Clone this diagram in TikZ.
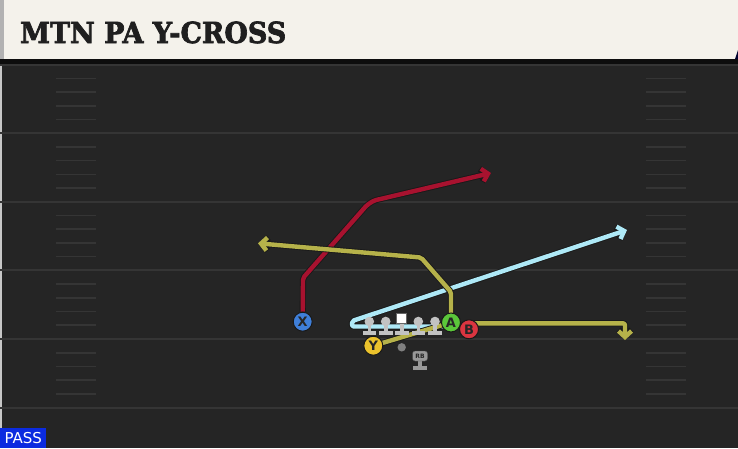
\documentclass[tikz,border=0pt]{standalone}
\usepackage{fontspec}
\setmainfont{DejaVu Sans}
\newfontfamily\titlefont[BoldFeatures={FakeBold=2.5}]{DejaVu Serif}
\usepackage{xcolor}
\usepackage{tikz}
\usetikzlibrary{arrows.meta,backgrounds}

\definecolor{field}{HTML}{252525}
\definecolor{fieldline}{HTML}{353535}
\definecolor{cream}{HTML}{F4F2EB}
\definecolor{redroute}{HTML}{A8122F}
\definecolor{oliveroute}{HTML}{B6B24A}
\definecolor{skyroute}{HTML}{AEE9F7}
\definecolor{xblue}{HTML}{3F7FD9}
\definecolor{agreen}{HTML}{5BC73A}
\definecolor{bred}{HTML}{DB3540}
\definecolor{ygold}{HTML}{EBC22C}
\definecolor{olgray}{HTML}{C2C2C2}
\definecolor{passblue}{HTML}{0B2BE0}

\begin{document}
\begin{tikzpicture}[x=1pt,y=-1pt,
    route/.style={line width=4.4pt, line join=round, rounded corners=2pt,
        -{Straight Barb[length=6pt,width=13pt]},
        preaction={draw=black!90, line width=6.2pt}},
    player/.style={circle, draw=black!90, line width=1pt, minimum size=19pt,
        inner sep=0pt, text=black!85, font=\bfseries\fontsize{13}{13}\selectfont}]
    \useasboundingbox (0,0) rectangle (738,448);

    % Players
    \node[player, fill=xblue] (X) at (302.7,321.7) {X};
    \node[player, fill=ygold] (Y) at (373.3,345.7) {Y};
    \node[player, fill=agreen] (A) at (451,322.5) {A};
    \node[player, fill=bred] (B) at (469,329.3) {B};

    % Route points
    \coordinate (x1) at (303,278);
    \coordinate (x2) at (367,205);
    \coordinate (x3) at (374,200.5);
    \coordinate (xEnd) at (491,173);
    \coordinate (c1) at (352,326.5);
    \coordinate (c2) at (352,321);
    \coordinate (cEnd) at (627,230);
    \coordinate (y1) at (451,292);
    \coordinate (y2) at (421,257.5);
    \coordinate (yEnd) at (258,243.3);
    \coordinate (b1) at (625,323.3);
    \coordinate (bEnd) at (625,340);

    \begin{scope}[on background layer]
    % Field
    \fill[field] (0,0) rectangle (738,448);
    \fill[black!22] (0,59) rectangle (1.5,448);
    \foreach \k in {0,...,5} {
        \draw[fieldline, line width=2pt] (0,64.6+68.6*\k) -- (738,64.6+68.6*\k);
    }
    \foreach \k in {0,...,4} {
        \foreach \j in {1,...,4} {
            \draw[fieldline, line width=1.6pt] (56,64.6+68.6*\k+13.72*\j) -- (96,64.6+68.6*\k+13.72*\j);
            \draw[fieldline, line width=1.6pt] (646,64.6+68.6*\k+13.72*\j) -- (686,64.6+68.6*\k+13.72*\j);
        }
    }

    % Header
    \fill[black!95] (0,58) rectangle (738,64);
    \fill[cream] (0,0) rectangle (738,59);
    \fill[black!30] (0,0) rectangle (4,59);
    \fill[black!70!blue!60!black] (738,50) -- (738,59) -- (735,59) -- cycle;

    % Routes
    \draw[route, redroute] (X) -- (x1) -- (x2) -- (x3) -- (xEnd);
    \draw[route, skyroute] (A.center |- c1) -- (c1) -- (c2) -- (cEnd);
    \draw[route, oliveroute] (Y.center) -- (A.center) -- (y1) -- (y2) -- (yEnd);
    \draw[route, oliveroute] (B.center |- b1) -- (b1) -- (bEnd);

    % Line
    \foreach \lx in {369.3,385.7,418.3,435} {
        \fill[olgray] (\lx,321.5) circle (4.8);
        \fill[olgray] (\lx-1.8,325) rectangle (\lx+1.8,331);
        \fill[olgray] (\lx-6.8,330.5) rectangle (\lx+6.8,335);
    }
    \fill[olgray] (399.9,322) rectangle (403.5,331);
    \fill[olgray] (394.9,330.5) rectangle (408.5,335);
    \draw[black!60, fill=white, line width=0.6pt] (396.7,313.5) rectangle (406.7,323.5);

    % Backfield
    \fill[black!50] (401.7,347.3) circle (4.2);
    \fill[black!40] (418.3,361) rectangle (421.7,366);
    \fill[black!40] (413.3,365.5) rectangle (426.7,370);
    \end{scope}

    \node[draw=black!70, fill=black!40, rounded corners=2.5pt, minimum width=15pt,
        minimum height=10pt, inner sep=0pt, text=black!85,
        font=\bfseries\fontsize{6}{6}\selectfont] (RB) at (420,356) {RB};

    \node[anchor=base west, inner sep=0pt, text=black!88,
        font=\titlefont\bfseries\fontsize{29}{29}\selectfont] (title) at (20,43) {\scalebox{0.93}[1]{MTN PA Y-CROSS}};

    % Play type
    \node[fill=passblue, text=white, anchor=south west, minimum width=46pt,
        minimum height=20pt, inner sep=0pt, font=\fontsize{15}{15}\selectfont] (pass) at (0,448) {PASS};
\end{tikzpicture}
\end{document}
